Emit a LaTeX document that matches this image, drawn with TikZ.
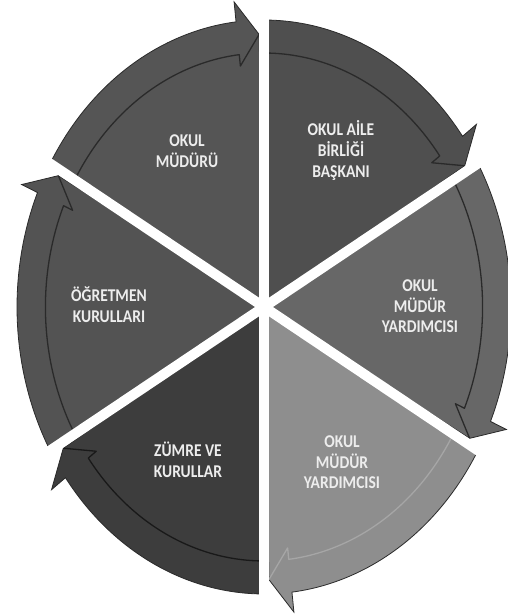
\documentclass[tikz,border=0pt]{standalone}
\usepackage{fontspec}
\setmainfont{Carlito}
\usepackage{graphicx}
\definecolor{cA}{HTML}{555555}
\definecolor{cB}{HTML}{4F4F4F}
\definecolor{cC}{HTML}{676767}
\definecolor{cD}{HTML}{8E8E8E}
\definecolor{cE}{HTML}{3D3D3D}
\definecolor{cF}{HTML}{535353}
\definecolor{edgecol}{HTML}{2A2A2A}
\definecolor{txtcol}{HTML}{EDEDED}
\newcommand\segmentshape[3]{%
  \pgfmathsetmacro\segend{#1-60+6.5}%
  \pgfmathsetmacro\segtip{#1-60+1.2}%
  \fill[#2, draw=edgecol, line width=0.8pt] (0,0) -- (#1:1)
    -- plot[domain=#1:\segend, samples=50, variable=\t] (\t:1)
    -- (\segend:1.07) -- (\segtip:0.95) -- cycle;
  \draw[#3, line width=1.3pt, line join=round]
    plot[domain=#1:\segend, samples=50, variable=\t] (\t:0.885)
    -- (\segend:0.845) -- (\segtip:0.95);
}
\newcommand\lbl[1]{\scalebox{1}[1.16]{\begin{tabular}{@{}c@{}}#1\end{tabular}}}
\tikzset{
  lbltext/.style={text=txtcol, font=\bfseries\fontsize{15.5}{17.7}\selectfont, inner sep=0pt},
  gapline/.style={white, line width=10pt}
}
\begin{document}
\begin{tikzpicture}[x=1pt,y=1pt]
\useasboundingbox (0,0) rectangle (508,616);
\fill[white] (0,0) rectangle (508,616);
\begin{scope}[shift={(264,309)}, x=247pt, y=287pt]
  \segmentshape{150}{cA}{edgecol}
  \segmentshape{90}{cB}{edgecol}
  \segmentshape{30}{cC}{edgecol}
  \segmentshape{-30}{cD}{black!35}
  \segmentshape{-90}{cE}{black!90}
  \segmentshape{-150}{cF}{edgecol}
  \foreach \a in {90,30,-30,-90,-150,150}
    \draw[gapline] (0,0) -- (\a:1.12);
\end{scope}
\node[lbltext] (mudur) at (187,463) {\lbl{OKUL\\MÜDÜRÜ}};
\node[lbltext] (aile) at (341,464) {\lbl{OKUL AİLE\\BİRLİĞİ\\BAŞKANI}};
\node[lbltext] (ogretmen) at (109,308.5) {\lbl{ÖĞRETMEN\\KURULLARI}};
\node[lbltext] (yard1) at (420,308) {\lbl{OKUL\\MÜDÜR\\YARDIMCISI}};
\node[lbltext] (zumre) at (188,153) {\lbl{ZÜMRE VE\\KURULLAR}};
\node[lbltext] (yard2) at (342,152) {\lbl{OKUL\\MÜDÜR\\YARDIMCISI}};
\end{tikzpicture}
\end{document}
